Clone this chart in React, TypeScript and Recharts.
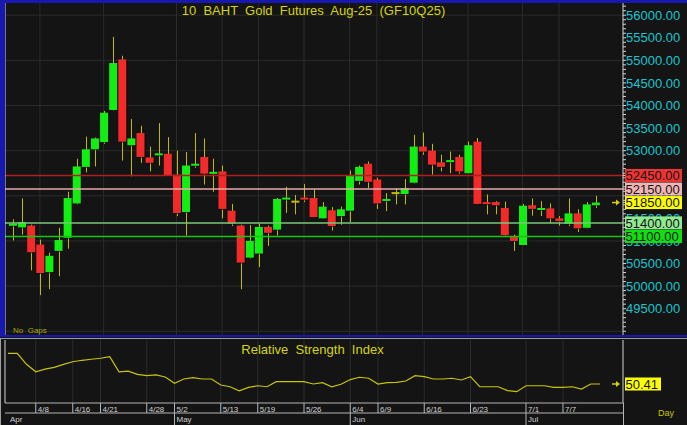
import { ComposedChart, Bar, Line, XAxis, YAxis, CartesianGrid, ReferenceLine } from "recharts"

const dates = [
  "4/2", "4/3", "4/4", "4/8", "4/9", "4/10", "4/11", "4/16", "4/17", "4/18",
  "4/21", "4/22", "4/23", "4/24", "4/25", "4/28", "4/29", "4/30", "5/2", "5/6",
  "5/7", "5/8", "5/9", "5/13", "5/14", "5/15", "5/16", "5/19", "5/20", "5/21",
  "5/22", "5/23", "5/26", "5/27", "5/28", "5/29", "5/30", "6/4", "6/5", "6/6",
  "6/9", "6/10", "6/11", "6/12", "6/13", "6/16", "6/17", "6/18", "6/19", "6/20",
  "6/23", "6/24", "6/25", "6/26", "6/27", "6/30", "7/1", "7/2", "7/3", "7/4",
  "7/7", "7/8", "7/9", "7/10", "7/11",
]

const opens = [
  51360, 51300, 51340, 50920, 50310, 50780, 51070, 51830, 52640, 53030,
  53190, 53900, 55020, 53120, 53390, 52850, 52910, 52930, 52470, 51640,
  52670, 52860, 52500, 52540, 51670, 51340, 50630, 50720, 51310, 51250,
  51940, 51870, 51960, 51950, 51500, 51680, 51550, 51670, 52330, 52710,
  52360, 51890, 52060, 52040, 52290, 53090, 53000, 52740, 52760, 52860,
  52500, 53200, 51860, 51860, 51730, 51090, 50910, 51790, 51700, 51720,
  51500, 51380, 51610, 51290, 51790,
]
const highs = [
  51480, 51940, 51360, 51030, 50740, 51290, 52090, 52820, 53310, 53290,
  53880, 55520, 55100, 53700, 53550, 53090, 53610, 53300, 53000, 52970,
  53390, 53270, 52820, 52670, 51820, 51360, 51350, 51380, 51340, 51950,
  52200, 52020, 52260, 52140, 51860, 51750, 51760, 52560, 52670, 52760,
  52400, 52060, 52170, 52370, 53350, 53400, 53150, 52910, 52980, 52910,
  53200, 53280, 52030, 51880, 51870, 51140, 51820, 51940, 51880, 51830,
  51550, 51940, 51700, 51860, 52000,
]
const lows = [
  51010, 51140, 50350, 49800, 49930, 50220, 50830, 51810, 52520, 52650,
  53150, 53880, 52780, 52430, 52730, 52540, 52670, 52440, 51550, 51120,
  52620, 52250, 52090, 51500, 51330, 49930, 50610, 50420, 50890, 51120,
  51620, 51590, 51860, 51520, 51490, 51230, 51360, 51420, 52250, 52170,
  51710, 51660, 51810, 51810, 52270, 52910, 52470, 52540, 52500, 52490,
  52490, 51810, 51590, 51590, 51110, 50780, 50900, 51560, 51550, 51390,
  51340, 51330, 51200, 51280, 51730,
]
const closes = [
  51380, 51420, 50750, 50290, 50670, 51020, 51950, 52650, 53030, 53270,
  53840, 54940, 53200, 53270, 52860, 52730, 52940, 52450, 51620, 52670,
  52710, 52490, 52530, 51710, 51380, 50520, 51000, 51310, 51180, 51930,
  51960, 51870, 51920, 51530, 51760, 51330, 51700, 52450, 52640, 52310,
  51830, 51930, 52060, 52170, 53090, 52980, 52690, 52640, 52790, 52540,
  53120, 51820, 51820, 51790, 51130, 51000, 51780, 51710, 51730, 51500,
  51440, 51610, 51280, 51810, 51850,
]
const rsi = [
  71.7, 71.7, 64.1, 58.9, 60.8, 62.0, 64.1, 65.9, 66.9, 67.6,
  68.3, 69.4, 58.9, 59.4, 57.1, 56.2, 56.7, 55.3, 50.9, 53.9,
  54.8, 53.9, 53.9, 49.7, 48.5, 45.6, 48.1, 49.2, 48.5, 52.0,
  52.0, 52.0, 52.0, 50.4, 51.3, 48.5, 50.2, 53.5, 55.1, 54.4,
  50.4, 51.3, 51.6, 52.5, 56.2, 55.5, 53.9, 53.9, 54.4, 53.2,
  55.5, 48.5, 48.5, 48.5, 45.8, 45.1, 49.2, 49.2, 49.2, 48.1,
  48.1, 48.5, 46.9, 50.4, 50.41,
]

const dateTicks = ["4/8", "4/16", "4/21", "4/28", "5/2", "5/13", "5/19", "5/26", "6/4", "6/9", "6/16", "6/23", "7/1", "7/7"]
const monthTicks = ["4/2", "5/2", "6/4", "7/1"]
const monthNames = ["Apr", "May", "Jun", "Jul"]
const priceLabels = [49500, 50000, 50500, 51000, 51500, 52000, 52500, 53000, 53500, 54000, 54500, 55000, 55500, 56000]
const priceGrid = [49000, 50000, 51000, 52000, 53000, 54000, 55000, 56000]
const rsiGrid = [50, 75]

// support / resistance levels and the last price tag
const levelValues = [52450, 52150, 51400, 51100]
const levelLines = ["#b01e1e", "#e8a8a8", "#78c878", "#10c810"]
const tagValues = [52450, 52150, 51850, 51400, 51100]
const tagBoxes = ["#f03434", "#f4b4b4", "#ffff00", "#90ea90", "#10e010"]
const lastPrice = 51850
const lastRsi = 50.41

const priceDomain = [48917, 56270]
const rsiDomain = [37.2, 81]
const priceMinor = Array.from({ length: 73 }, (_, i) => 49000 + i * 100).filter((v) => !tagValues.includes(v))
const priceTicks = [...priceMinor, ...tagValues]
const rsiMinor = Array.from({ length: 9 }, (_, i) => 40 + i * 5)

const rows = dates.map((date, i) => ({
  date,
  open: opens[i],
  high: highs[i],
  low: lows[i],
  close: closes[i],
  rsi: rsi[i],
}))

const FONT = "Liberation Sans, Arial, sans-serif"
const BG = "#141414"
const GRID = "#2b2b2b"
const WICK = "#c2ba00"
const UP = "#12ee12"
const DOWN = "#f22a2a"
const ARROW = "#d8d000"
const XPAD = { left: 3, right: 23 }

function Candle(props: any) {
  const { x, y, width, height, payload } = props
  if (x == null || y == null) return null
  const { open, close, high, low } = payload
  const top = Math.min(y, y + height)
  const h = Math.abs(height)
  const k = h / (high - low)
  const yO = top + (high - open) * k
  const yC = top + (high - close) * k
  const cx = Math.round(x + width / 2) + 0.5
  const bodyTop = Math.min(yO, yC)
  const bodyH = Math.abs(yO - yC)
  const flat = close === open
  const fill = flat ? WICK : close > open ? UP : DOWN
  return (
    <g>
      <line x1={cx} x2={cx} y1={top} y2={top + h} stroke={WICK} strokeWidth={1} />
      {!flat && <rect x={x + 1} y={bodyTop + 1} width={width} height={Math.max(bodyH, 2)} fill="#000" opacity={0.55} />}
      <rect x={x} y={flat ? bodyTop - 1 : bodyTop} width={width} height={Math.max(bodyH, 2)} fill={fill} />
    </g>
  )
}

function Tag({ x, y, box, text, arrow, w = 57 }: any) {
  return (
    <g>
      {arrow && (
        <g>
          <line x1={x - 14} x2={x - 9} y1={y} y2={y} stroke={ARROW} strokeWidth={1.5} />
          <path d={`M${x - 10},${y - 3} L${x - 6},${y} L${x - 10},${y + 3} Z`} fill={ARROW} />
        </g>
      )}
      <rect x={x - 1} y={y - 6.5} width={w} height={13} fill={box} />
      <text x={x - 0.5} y={y} dy="0.36em" fontSize={13} fontFamily={FONT} fill="#141414">
        {text}
      </text>
    </g>
  )
}

function PriceTick(props: any) {
  const { x, y, payload, index } = props
  if (index >= priceMinor.length) {
    const t = tagValues.indexOf(payload.value)
    return <Tag x={x} y={y} box={tagBoxes[t]} text={payload.value.toFixed(2)} arrow={payload.value === lastPrice} />
  }
  if (!priceLabels.includes(payload.value)) return null
  return (
    <text x={x} y={y} dy="0.36em" fontSize={13} fontFamily={FONT} fill="#19c4cc">
      {payload.value.toFixed(2)}
    </text>
  )
}

function RsiTag(props: any) {
  const { viewBox } = props
  if (!viewBox) return null
  const right = viewBox.x + viewBox.width
  return <Tag x={right + 3} y={viewBox.y} box="#ffff00" text={lastRsi.toFixed(2)} arrow w={36} />
}

function DateTick(props: any) {
  const { x, y, payload } = props
  return (
    <g>
      <line x1={x} x2={x} y1={y} y2={y + 10} stroke="#b4b4b4" />
      <text x={x + 2} y={y + 8.5} fontSize={8} fontFamily={FONT} fill="#cfcfcf">
        {payload.value}
      </text>
    </g>
  )
}

function MonthTick(props: any) {
  const { x, y, payload } = props
  const idx = monthTicks.indexOf(payload.value)
  return (
    <g>
      {idx > 0 && <line x1={x} x2={x} y1={y} y2={y + 12} stroke="#b4b4b4" />}
      <text x={x + 2} y={y + 8.5} fontSize={8} fontFamily={FONT} fill="#cfcfcf">
        {monthNames[idx]}
      </text>
    </g>
  )
}

const textBase = { position: "absolute" as const, fontFamily: FONT, whiteSpace: "pre" as const }

export default function App() {
  return (
    <div style={{ position: "absolute", left: 0, top: 0, width: 687, height: 425, background: BG, overflow: "hidden" }}>
      <div style={{ position: "absolute", left: 0, top: 0 }}>
        <ComposedChart width={687} height={337} data={rows} margin={{ top: 3, right: 0, bottom: 2, left: 5 }}>
          <CartesianGrid yAxisId="p" stroke={GRID} horizontalValues={priceGrid} verticalValues={dateTicks} />
          <XAxis dataKey="date" hide ticks={dateTicks} padding={XPAD} />
          <YAxis
            yAxisId="l"
            mirror
            width={5}
            type="number"
            domain={priceDomain}
            ticks={priceTicks}
            interval={0}
            tick={false}
            tickSize={3}
            allowDataOverflow
            axisLine={{ stroke: "#d4d4d4" }}
            tickLine={{ stroke: "#d4d4d4" }}
          />
          <YAxis
            yAxisId="p"
            orientation="right"
            width={64}
            type="number"
            domain={priceDomain}
            ticks={priceTicks}
            interval={0}
            tick={<PriceTick />}
            tickSize={3}
            tickMargin={0}
            allowDataOverflow
            axisLine={{ stroke: "#d4d4d4" }}
            tickLine={{ stroke: "#d4d4d4" }}
          />
          {levelValues.map((v, i) => (
            <ReferenceLine key={v} yAxisId="p" y={v} stroke={levelLines[i]} strokeWidth={1.5} />
          ))}
          <Bar
            yAxisId="p"
            dataKey={(d: any) => [d.low, d.high]}
            barSize={8}
            shape={<Candle />}
            isAnimationActive={false}
          />
        </ComposedChart>
      </div>

      <div style={{ position: "absolute", left: 0, top: 337 }}>
        <ComposedChart width={687} height={88} data={rows} margin={{ top: 3, right: 0, bottom: 2, left: 5 }}>
          <CartesianGrid yAxisId="r" stroke={GRID} horizontalValues={rsiGrid} verticalValues={dateTicks} />
          <XAxis
            dataKey="date"
            ticks={dateTicks}
            interval={0}
            height={10}
            tickSize={0}
            tickMargin={0}
            padding={XPAD}
            axisLine={{ stroke: "#b4b4b4" }}
            tickLine={false}
            tick={<DateTick />}
          />
          <XAxis
            xAxisId="m"
            dataKey="date"
            ticks={monthTicks}
            interval={0}
            height={10}
            tickSize={0}
            tickMargin={0}
            padding={XPAD}
            axisLine={{ stroke: "#b4b4b4" }}
            tickLine={false}
            tick={<MonthTick />}
          />
          <YAxis
            yAxisId="rl"
            mirror
            width={5}
            type="number"
            domain={rsiDomain}
            ticks={rsiMinor}
            interval={0}
            tick={false}
            tickSize={3}
            allowDataOverflow
            axisLine={{ stroke: "#d4d4d4" }}
            tickLine={{ stroke: "#d4d4d4" }}
          />
          <YAxis
            yAxisId="r"
            orientation="right"
            width={64}
            type="number"
            domain={rsiDomain}
            ticks={rsiMinor}
            interval={0}
            tick={false}
            tickSize={3}
            allowDataOverflow
            axisLine={{ stroke: "#d4d4d4" }}
            tickLine={{ stroke: "#d4d4d4" }}
          />
          <ReferenceLine yAxisId="r" y={lastRsi} stroke="none" label={<RsiTag />} />
          <Line
            yAxisId="r"
            dataKey="rsi"
            stroke="#c8c400"
            strokeWidth={1.2}
            dot={false}
            isAnimationActive={false}
          />
        </ComposedChart>
      </div>

      {/* frame */}
      <div style={{ position: "absolute", left: 0, top: 0, width: 687, height: 3, background: "#1818b0" }} />
      <div style={{ position: "absolute", left: 0, top: 0, width: 5, height: 337, background: "#1818b0" }} />
      <div style={{ position: "absolute", left: 0, top: 335, width: 687, height: 2, background: "#1818b0" }} />
      <div style={{ position: "absolute", left: 0, top: 338, width: 687, height: 1, background: "#a0a0a0" }} />
      <div style={{ position: "absolute", left: 0, top: 338, width: 1, height: 87, background: "#a0a0a0" }} />
      <div style={{ position: "absolute", left: 623, top: 403, width: 1, height: 22, background: "#b4b4b4" }} />

      <div style={{ ...textBase, left: 0, width: 627, top: 3, textAlign: "center", fontSize: 13, lineHeight: "15px", color: "#d4d400" }}>
        {"10  BAHT  Gold  Futures  Aug-25  (GF10Q25)"}
      </div>
      <div style={{ ...textBase, left: 0, width: 625, top: 342, textAlign: "center", fontSize: 13, lineHeight: "15px", color: "#d4d400" }}>
        {"Relative  Strength  Index"}
      </div>
      <div style={{ ...textBase, left: 13, top: 326, fontSize: 8, lineHeight: "10px", color: "#a8a800" }}>
        {"No  Gaps"}
      </div>
      <div style={{ ...textBase, left: 658, top: 408, fontSize: 9, lineHeight: "11px", color: "#c8c400" }}>
        Day
      </div>
    </div>
  )
}
